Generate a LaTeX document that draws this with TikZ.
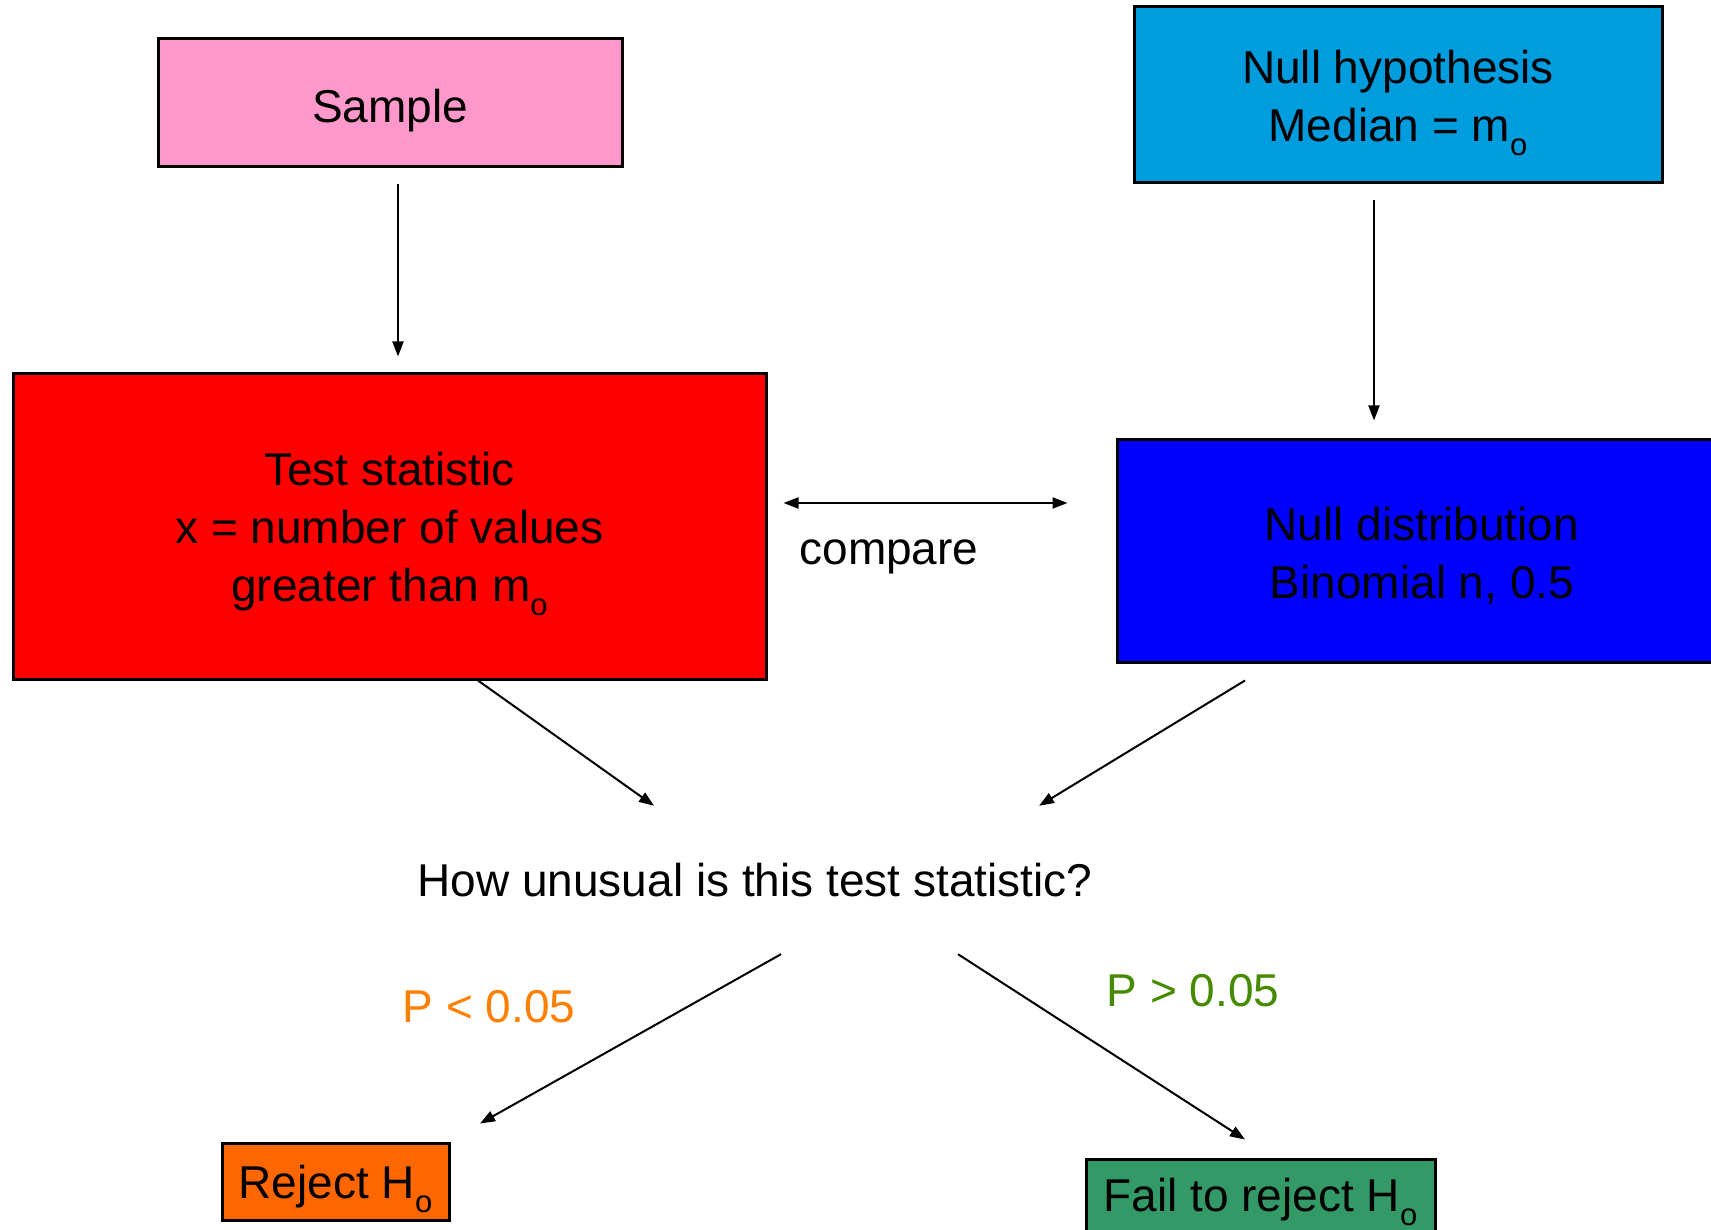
\documentclass[tikz,border=0pt]{standalone}
\usepackage{fontspec}
\setmainfont{Liberation Sans}
\usetikzlibrary{arrows.meta,calc}

\definecolor{samplepink}{RGB}{255,153,204}
\definecolor{hypblue}{RGB}{0,157,222}
\definecolor{statred}{RGB}{255,0,0}
\definecolor{distblue}{RGB}{0,0,255}
\definecolor{rejorange}{RGB}{255,102,0}
\definecolor{failgreen}{RGB}{51,153,102}
\definecolor{plow}{RGB}{255,128,0}
\definecolor{phigh}{RGB}{70,138,0}

% small lowered "o" used as a subscript
\newcommand\subo{\raisebox{-0.3em}{\fontsize{31}{31}\selectfont o}}
% tall invisible strut that sets the first line a little lower in its box
\newcommand\topstrut{\rule{0pt}{49pt}}

\tikzset{
  every node/.style={font=\fontsize{46}{58}\selectfont, inner sep=0pt},
  box/.style={draw=black, line width=3pt, align=center},
  label/.style={align=center},
  arr/.style={line width=2pt, -{Triangle[length=15pt,width=11pt]}},
  biarr/.style={line width=2pt, {Triangle[length=15pt,width=11pt]}-{Triangle[length=15pt,width=11pt]}}
}

\begin{document}
\begin{tikzpicture}[x=1pt,y=-1pt]
  \useasboundingbox (0,0) rectangle (1711,1230);
  \clip (0,0) rectangle (1711,1230);
  \fill[white] (0,0) rectangle (1711,1230);

  % boxes
  \node[box, fill=samplepink, minimum width=464pt, minimum height=128pt] (sample) at (390,103)
    {\topstrut Sample};
  \node[box, fill=hypblue, minimum width=528pt, minimum height=176pt] (hyp) at (1398,95)
    {\topstrut Null hypothesis\\Median = m\subo};
  \node[box, fill=statred, minimum width=753pt, minimum height=305pt] (stat) at (389.5,526.5)
    {\topstrut Test statistic\\x = number of values\\greater than m\subo};
  \node[box, fill=distblue, minimum width=610pt, minimum height=223pt] (dist) at (1422,550.5)
    {\rule{0pt}{44pt}Null distribution\\Binomial n, 0.5};
  \node[box, fill=rejorange, minimum width=227pt, minimum height=77pt] (reject) at (335.5,1181.5)
    {\topstrut Reject H\subo};
  \node[box, fill=failgreen, minimum width=349pt, minimum height=86pt] (fail) at (1260.5,1202)
    {\rule{0pt}{31pt}Fail to reject H\subo};

  % free-standing texts
  \node[label] (cmp) at (889,545) {\topstrut compare};
  \node[label, minimum height=148pt] (q) at (755,880) {How unusual is this test statistic?};
  \node[label, text=plow] (plo) at (489,1007) {P < 0.05};
  \node[label, text=phigh] (phi) at (1193,991) {P > 0.05};

  % connectors
  \draw[arr] ($(sample.south)+(8,16)$) -- ($(stat.north)+(8.5,-16)$);
  \draw[arr] ($(hyp.south)+(-24,16)$) -- ($(dist.north)+(-48,-17)$);
  \draw[biarr] ($(stat.east)+(16,-23.5)$) -- ($(dist.west)+(-48,-47.5)$);
  \draw[arr] ($(stat.south)+(88.5,0)$) -- ($(q.north)+(-101,0)$);
  \draw[arr] ($(dist.south)+(-177,17)$) -- ($(q.north)+(284,0)$);
  \draw[arr] ($(q.south)+(26,0)$) -- ($(reject.north)+(144.5,-18)$);
  \draw[arr] ($(q.south)+(203,0)$) -- ($(fail.north)+(-15.5,-18)$);
\end{tikzpicture}
\end{document}
